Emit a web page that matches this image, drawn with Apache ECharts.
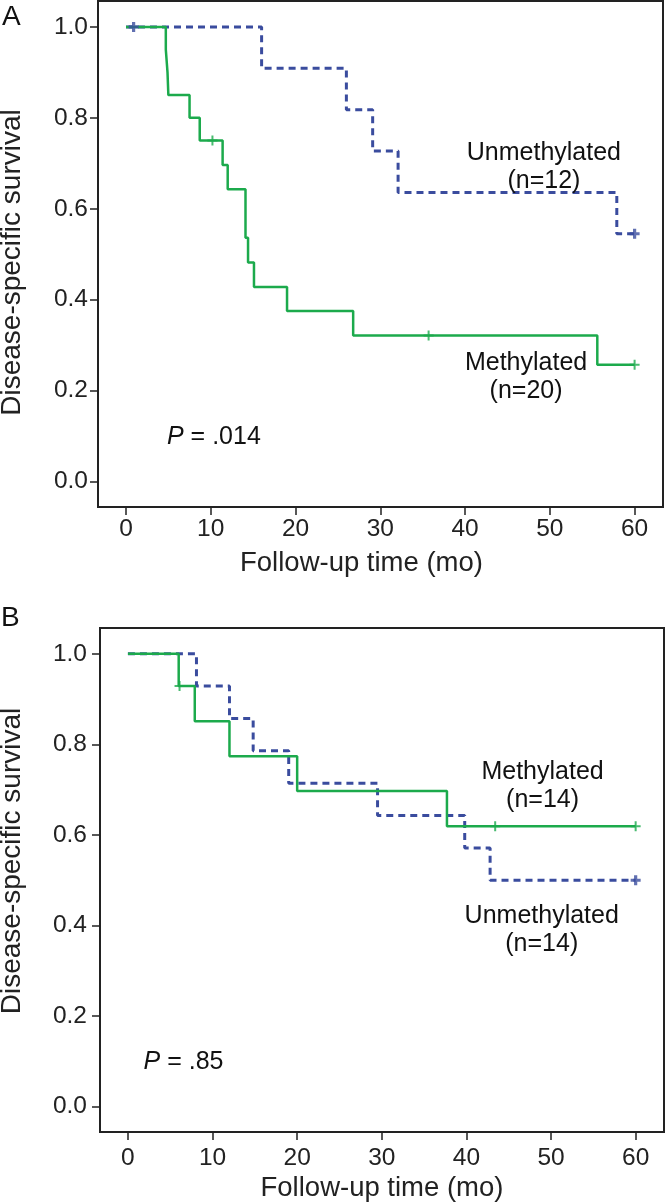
<!DOCTYPE html>
<html><head><meta charset="utf-8">
<script src="https://cdn.jsdelivr.net/npm/echarts@6/dist/echarts.min.js"></script>
<style>html,body{margin:0;padding:0;background:#fff}#c{width:666px;height:1204px}</style>
</head><body><div id="c"></div>
<script>
// ---- tick labels ----
const xTicks = [0, 10, 20, 30, 40, 50, 60];
const yTicks = [0, 0.2, 0.4, 0.6, 0.8, 1.0];
const xTitle = 'Follow-up time (mo)';
const yTitle = 'Disease-specific survival';

// ---- Panel A ----
const aUnmethTime = [0, 16.0, 26.0, 29.1, 32.1, 57.9, 60];
const aUnmethSurv = [1, 0.909, 0.818, 0.727, 0.636, 0.545, 0.545];
const aUnmethCensorTime = [0.9, 60];
const aUnmethCensorSurv = [1, 0.545];
const aMethTime = [0, 4.7, 4.9, 5.0, 7.5, 8.7, 11.4, 12.0, 14.1, 14.4, 15.1, 19.0, 26.8, 55.6, 60];
const aMethSurv = [1, 0.95, 0.90, 0.85, 0.80, 0.75, 0.696, 0.643, 0.536, 0.482, 0.428, 0.375, 0.321, 0.257, 0.257];
const aMethCensorTime = [10.2, 35.7, 60];
const aMethCensorSurv = [0.75, 0.321, 0.257];

// ---- Panel B ----
const bMethTime = [0, 6.0, 7.9, 12.0, 20.0, 37.7, 60];
const bMethSurv = [1, 0.929, 0.851, 0.774, 0.697, 0.619, 0.619];
const bMethCensorTime = [6.1, 43.4, 60];
const bMethCensorSurv = [0.929, 0.619, 0.619];
const bUnmethTime = [0, 8.1, 12.0, 14.8, 19.0, 29.5, 39.8, 42.8, 60];
const bUnmethSurv = [1, 0.929, 0.857, 0.786, 0.714, 0.643, 0.571, 0.5, 0.5];
const bUnmethCensorTime = [60];
const bUnmethCensorSurv = [0.5];

// ---- annotation texts (data coords) ----
const annotations = [
  {grid: 0, x: 49.3, y: 0.691, text: 'Unmethylated\n(n=12)'},
  {grid: 0, x: 47.2, y: 0.2305, text: 'Methylated\n(n=20)'},
  {grid: 1, x: 49.0, y: 0.707, text: 'Methylated\n(n=14)'},
  {grid: 1, x: 48.9, y: 0.39, text: 'Unmethylated\n(n=14)'}
];
const pValues = [
  {grid: 0, x: 4.84, y: 0.098, text: '.014'},
  {grid: 1, x: 1.85, y: 0.0976, text: '.85'}
];

const FONT = "'Liberation Sans', Arial, Helvetica, sans-serif";
const BLUE = '#3a4c9e';
const GREEN = '#1caa4c';
const PLUS_THIN = 'path://M4,0H6V4H10V6H6V10H4V6H0V4H4Z';
const PLUS_BOLD = 'path://M3.4,0H6.6V3.4H10V6.6H6.6V10H3.4V6.6H0V3.4H3.4Z';

const zip = (a, b) => a.map((v, i) => [v, b[i]]);

function xAxis(gridIndex, margin, padRight) {
  return {
    type: 'value', gridIndex, min: -3.3, max: 63.35,
    axisLine: {show: true, onZero: false, lineStyle: {color: '#222', width: 2}},
    axisTick: {show: true, length: 8, lineStyle: {color: '#222', width: 1.5}, customValues: xTicks},
    axisLabel: {fontSize: 24.5, color: '#222', fontFamily: FONT, margin, customValues: xTicks},
    splitLine: {show: false},
    name: xTitle, nameLocation: 'middle', nameGap: 42,
    nameTextStyle: {fontSize: 27.5, color: '#222', fontFamily: FONT, padding: [0, padRight, 0, 0]}
  };
}
function yAxis(gridIndex, margin, nameGap, pad) {
  return {
    type: 'value', gridIndex, min: -0.056, max: 1.057,
    axisLine: {show: true, onZero: false, lineStyle: {color: '#222', width: 2}},
    axisTick: {show: true, length: 8, lineStyle: {color: '#222', width: 1.5}, customValues: yTicks},
    axisLabel: {fontSize: 24.5, color: '#222', fontFamily: FONT, margin, customValues: yTicks,
      formatter: v => v.toFixed(1)},
    splitLine: {show: false},
    name: yTitle, nameLocation: 'middle', nameGap,
    nameTextStyle: {fontSize: 28, color: '#222', fontFamily: FONT, padding: pad}
  };
}
function km(name, gi, t, s, color, dashed) {
  return {
    name, type: 'line', xAxisIndex: gi, yAxisIndex: gi, step: 'end',
    data: zip(t, s), showSymbol: false, symbol: 'none', animation: false,
    lineStyle: {color, width: dashed ? 3 : 2.5, type: dashed ? [7, 5] : 'solid'}
  };
}
function cens(name, gi, t, s, color, sym) {
  return {
    name, type: 'scatter', xAxisIndex: gi, yAxisIndex: gi, data: zip(t, s),
    symbol: sym, symbolSize: 10, itemStyle: {color}, animation: false, z: 5
  };
}

const chart = echarts.init(document.getElementById('c'), null, {renderer: 'canvas'});
const option = {
  backgroundColor: '#fff',
  animation: false,
  grid: [
    {left: 98, top: 1, width: 565, height: 506, show: true, borderColor: '#222', borderWidth: 2,
     backgroundColor: 'transparent', outerBoundsMode: 'none', containLabel: false},
    {left: 100, top: 628, width: 564, height: 504, show: true, borderColor: '#222', borderWidth: 2,
     backgroundColor: 'transparent', outerBoundsMode: 'none', containLabel: false}
  ],
  xAxis: [xAxis(0, 10, 38), xAxis(1, 14, 0)],
  yAxis: [yAxis(0, 10, 72, [0, 17, 0, 0]), yAxis(1, 13, 74, [0, 0, 0, 38])],
  series: [
    km('Unmethylated (A)', 0, aUnmethTime, aUnmethSurv, BLUE, true),
    km('Methylated (A)', 0, aMethTime, aMethSurv, GREEN, false),
    cens('Unmethylated censored (A)', 0, aUnmethCensorTime, aUnmethCensorSurv, BLUE, PLUS_BOLD),
    cens('Methylated censored (A)', 0, aMethCensorTime, aMethCensorSurv, GREEN, PLUS_THIN),
    km('Unmethylated (B)', 1, bUnmethTime, bUnmethSurv, BLUE, true),
    km('Methylated (B)', 1, bMethTime, bMethSurv, GREEN, false),
    cens('Unmethylated censored (B)', 1, bUnmethCensorTime, bUnmethCensorSurv, BLUE, PLUS_BOLD),
    cens('Methylated censored (B)', 1, bMethCensorTime, bMethCensorSurv, GREEN, PLUS_THIN)
  ]
};
chart.setOption(option);

const graphics = [
  {type: 'text', left: 2, top: 3, style: {text: 'A', fontSize: 28, fontFamily: FONT, fill: '#111'}},
  {type: 'text', left: 1, top: 604, style: {text: 'B', fontSize: 28, fontFamily: FONT, fill: '#111'}}
];
annotations.forEach(a => {
  const p = chart.convertToPixel({gridIndex: a.grid}, [a.x, a.y]);
  graphics.push({type: 'text', x: p[0], y: p[1], z: 10, style: {
    text: a.text, fontSize: 25, lineHeight: 28, fontFamily: FONT, fill: '#111',
    align: 'center', verticalAlign: 'middle'}});
});
pValues.forEach(a => {
  const p = chart.convertToPixel({gridIndex: a.grid}, [a.x, a.y]);
  graphics.push({type: 'text', x: p[0], y: p[1], z: 10, style: {
    text: '{i|P} = ' + a.text, fontSize: 25, fontFamily: FONT, fill: '#111',
    align: 'left', verticalAlign: 'middle',
    rich: {i: {fontStyle: 'italic', fontSize: 25, fontFamily: FONT, fill: '#111'}}}});
});
chart.setOption({graphic: graphics});
</script>
</body></html>
